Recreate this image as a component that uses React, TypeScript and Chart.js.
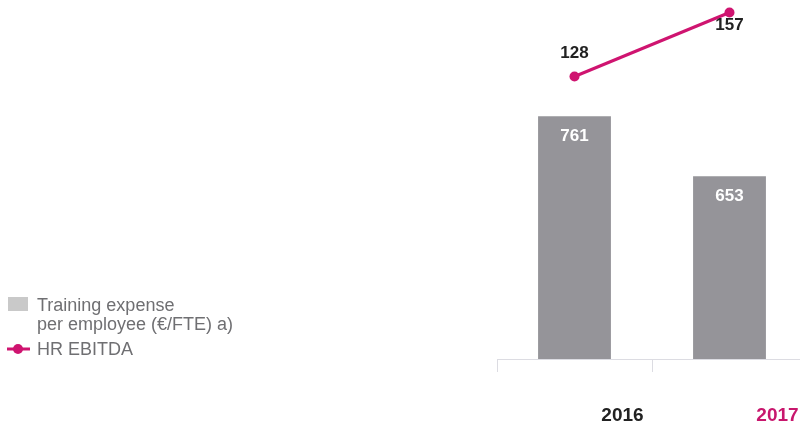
import React, { useEffect, useRef } from 'react';
import { Chart, registerables } from 'chart.js';

Chart.register(...registerables);

const categories = ['2016', '2017'];
const trainingExpense = [761, 653];
const hrEbitda = [128, 157];
const seriesNames = ['Training expense per employee (€/FTE) a)', 'HR EBITDA'];
const legendLines = [['Training expense', 'per employee (€/FTE) a)'], ['HR EBITDA']];
const tickColors = ['#222222', '#c8176d'];

const MAGENTA = '#cf1470';
const BAR_GRAY = '#959499';
const LEGEND_GRAY = '#c9c9c9';
const FONT = '"Liberation Sans", Arial, sans-serif';

const valueLabels = {
  id: 'valueLabels',
  afterDatasetsDraw(chart: any) {
    const ctx = chart.ctx;
    ctx.save();
    ctx.textAlign = 'center';
    ctx.textBaseline = 'middle';
    ctx.font = `bold 17px ${FONT}`;
    const barMeta = chart.getDatasetMeta(0);
    barMeta.data.forEach((el: any, i: number) => {
      ctx.fillStyle = '#ffffff';
      ctx.fillText(String(chart.data.datasets[0].data[i]), el.x, el.y + 20);
    });
    const lineMeta = chart.getDatasetMeta(1);
    lineMeta.data.forEach((el: any, i: number) => {
      ctx.fillStyle = '#222222';
      const y = Math.max(el.y - 23, 25);
      ctx.fillText(String(chart.data.datasets[1].data[i]), el.x, y);
    });
    ctx.restore();
  },
};

const customLegend = {
  id: 'customLegend',
  afterDraw(chart: any) {
    const ctx = chart.ctx;
    ctx.save();
    ctx.font = `18px ${FONT}`;
    ctx.textBaseline = 'alphabetic';
    ctx.textAlign = 'left';
    ctx.fillStyle = '#6f6f72';
    // bar legend
    ctx.fillStyle = LEGEND_GRAY;
    ctx.fillRect(8, 297, 20, 14);
    ctx.fillStyle = '#6f6f72';
    ctx.fillText(legendLines[0][0], 37, 311);
    ctx.fillText(legendLines[0][1], 37, 330);
    // line legend
    ctx.strokeStyle = MAGENTA;
    ctx.lineWidth = 3;
    ctx.beginPath();
    ctx.moveTo(7, 349);
    ctx.lineTo(30, 349);
    ctx.stroke();
    ctx.fillStyle = MAGENTA;
    ctx.beginPath();
    ctx.arc(18, 349, 5, 0, Math.PI * 2);
    ctx.fill();
    ctx.fillStyle = '#6f6f72';
    ctx.fillText(legendLines[1][0], 37, 355);
    ctx.restore();
  },
};

export default function App() {
  const ref = useRef<HTMLCanvasElement>(null);
  useEffect(() => {
    if (!ref.current) return;
    const chart = new Chart(ref.current, {
      type: 'bar',
      data: {
        labels: categories,
        datasets: [
          {
            type: 'bar',
            label: seriesNames[0],
            data: trainingExpense,
            backgroundColor: BAR_GRAY,
            barPercentage: 0.47,
            categoryPercentage: 1,
            yAxisID: 'y',
            order: 2,
          },
          {
            type: 'line',
            label: seriesNames[1],
            data: hrEbitda,
            borderColor: MAGENTA,
            backgroundColor: MAGENTA,
            borderWidth: 3,
            pointRadius: 5,
            pointBackgroundColor: MAGENTA,
            pointBorderWidth: 0,
            yAxisID: 'y1',
            order: 1,
          } as any,
        ],
      },
      options: {
        responsive: false,
        animation: false,
        devicePixelRatio: 1,
        layout: { padding: { left: 497, right: 13, top: 5, bottom: 0 } },
        plugins: { legend: { display: false }, tooltip: { enabled: false } },
        scales: {
          x: {
            offset: true,
            grid: {
              offset: true,
              drawOnChartArea: false,
              drawTicks: true,
              tickLength: 13,
              color: '#dcdce2',
            },
            border: { display: true, color: '#dcdce2', width: 1 },
            ticks: {
              padding: 32,
              labelOffset: 48,
              color: tickColors as any,
              font: { family: FONT, size: 19, weight: 'bold' },
            },
            afterFit(scale: any) {
              scale.height = 71;
            },
          },
          y: { display: false, min: 324, max: 961 },
          y1: { display: false, min: 0, max: 160.4 },
        },
      },
      plugins: [valueLabels, customLegend],
    });
    return () => chart.destroy();
  }, []);
  return (
    <div style={{ position: 'absolute', left: 0, top: 0, width: 800, height: 430, overflow: 'hidden', background: '#fff' }}>
      <canvas ref={ref} width={820} height={430} style={{ display: 'block' }} />
    </div>
  );
}
